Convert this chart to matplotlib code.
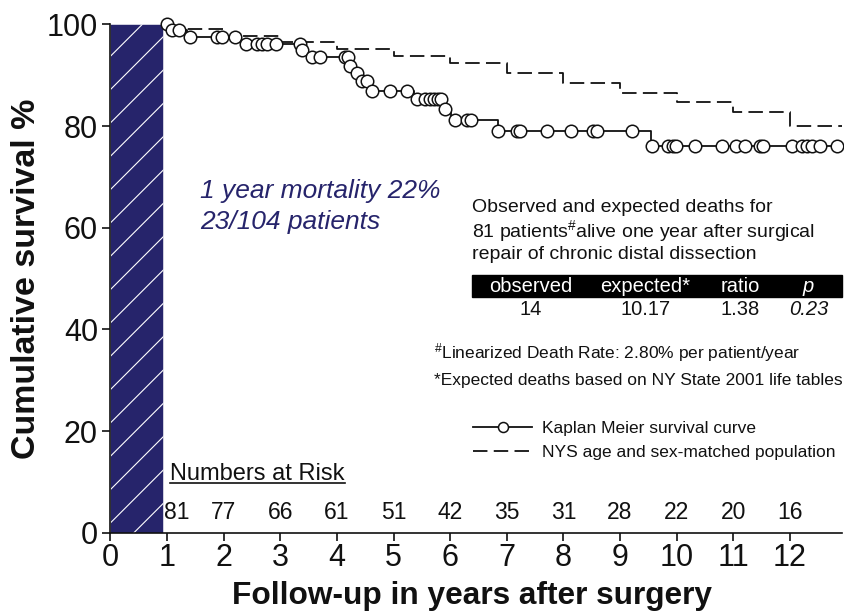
import numpy as np
import matplotlib.pyplot as plt
from matplotlib.patches import Rectangle
from matplotlib.legend_handler import HandlerTuple

plt.rcParams['font.family'] = ['Liberation Sans', 'DejaVu Sans']
plt.rcParams['mathtext.fontset'] = 'custom'
plt.rcParams['mathtext.rm'] = 'Liberation Sans'
plt.rcParams['mathtext.it'] = 'Liberation Sans:italic'
plt.rcParams['hatch.linewidth'] = 0.8

# Kaplan-Meier curve for patients alive at one year
km_start = 1.0
km_end = 12.88
km_drop_years = [1.05, 1.35, 2.30, 3.37, 3.48, 4.22, 4.32, 4.42, 4.57,
                 5.36, 5.89, 6.02, 6.84, 9.55]
km_levels = [100.0, 98.9, 97.6, 96.2, 94.9, 93.5, 91.9, 90.4, 88.9, 87.0,
             85.3, 83.3, 81.3, 79.0, 76.0]

# censored follow-up times (open circles)
censor_years = [1.00, 1.08, 1.21, 1.41, 1.89, 1.97, 2.20, 2.39, 2.59, 2.67,
                2.77, 2.92, 3.35, 3.38, 3.56, 3.70, 4.15, 4.20, 4.24, 4.36,
                4.45, 4.53, 4.62, 4.94, 5.24, 5.41, 5.56, 5.64, 5.72, 5.78,
                5.84, 5.91, 6.09, 6.30, 6.36, 6.85, 7.18, 7.24, 7.71, 8.13,
                8.53, 8.59, 9.21, 9.56, 9.85, 9.94, 9.99, 10.33, 10.80, 11.04,
                11.21, 11.48, 11.53, 12.04, 12.21, 12.30, 12.39, 12.54, 12.83]

# expected survival of the age and sex-matched NY State population
pop_years = [1, 2, 3, 4, 5, 6, 7, 8, 9, 10, 11, 12]
pop_levels = [99.2, 97.8, 96.5, 95.1, 93.7, 92.4, 90.4, 88.4, 86.6, 84.8,
              82.8, 80.1]

# numbers at risk at the start of each year
risk_years = [1, 2, 3, 4, 5, 6, 7, 8, 9, 10, 11, 12]
risk_counts = [81, 77, 66, 61, 51, 42, 35, 31, 28, 22, 20, 16]

# observed vs expected deaths
table_headers = ['observed', 'expected*', 'ratio', 'p']
table_values = [14, 10.17, 1.38, 0.23]

first_year_end = 0.93
x_max = 12.92
navy = '#26246b'
ink = '#111111'

fig = plt.figure(figsize=(8.44, 6.11), dpi=100)
ax = fig.add_axes([0.1308, 0.128, 0.8668, 0.832])

# first postoperative year, hatched
ax.bar(0, 100, width=first_year_end, align='edge', color=navy,
       edgecolor='white', hatch='/', linewidth=0.4, zorder=1)

# step curves
km_x = [km_start] + km_drop_years + [km_end]
km_y = km_levels + [km_levels[-1]]
km_line, = ax.step(km_x, km_y, where='post', color=ink, lw=1.3, zorder=3)

censor_idx = np.searchsorted(km_drop_years, censor_years, side='right')
censor_y = np.array(km_levels)[censor_idx]
km_marks, = ax.plot(censor_years, censor_y, 'o', ms=9, mfc='white',
                    mec=ink, mew=1.1, clip_on=False, zorder=4)

pop_x = pop_years + [x_max]
pop_y = pop_levels + [pop_levels[-1]]
pop_line, = ax.step(pop_x, pop_y, where='post', color=ink, lw=1.3,
                    linestyle=(0, (8, 3.5)), zorder=2)

# axes
ax.set_xlim(0, x_max)
ax.set_ylim(0, 100)
ax.set_xticks(range(0, 13))
ax.set_yticks(range(0, 101, 20))
ax.spines['top'].set_visible(False)
ax.spines['right'].set_visible(False)
for s in ['left', 'bottom']:
    ax.spines[s].set_linewidth(1.2)
    ax.spines[s].set_color(ink)
ax.tick_params(axis='both', direction='out', length=6, width=1.2,
               labelsize=22, colors=ink)
ax.tick_params(axis='x', pad=1)
ax.tick_params(axis='y', pad=3)

ax.set_xlabel('Follow-up in years after surgery', fontsize=22.8,
              fontweight='bold', color=ink)
ax.xaxis.set_label_coords(0.494, -0.094)
ax.set_ylabel('Cumulative survival %', fontsize=24.5, fontweight='bold',
              color=ink)
ax.yaxis.set_label_coords(-0.093, 0.5)

# one year mortality note
ax.text(1.58, 67.3, '1 year mortality 22%', style='italic', color=navy,
        fontsize=19, va='center')
ax.text(1.58, 61.2, '23/104 patients', style='italic', color=navy,
        fontsize=19, va='center')

# observed / expected block
ax.text(6.39, 63.9, 'Observed and expected deaths for', fontsize=14,
        va='center', color=ink)
ax.text(6.39, 59.3, '81 patients$^{\\#}$alive one year after surgical',
        fontsize=14, va='center', color=ink)
ax.text(6.39, 54.8, 'repair of chronic distal dissection', fontsize=14,
        va='center', color=ink)

ax.add_patch(Rectangle((6.39, 46.3), x_max - 6.39, 4.5, color='black',
                       clip_on=False, zorder=2))
col_x = [7.42, 9.45, 11.12, 12.33]
value_text = ['%d' % table_values[0], '%.2f' % table_values[1],
              '%.2f' % table_values[2], '%.2f' % table_values[3]]
for cx, head, val in zip(col_x, table_headers, value_text):
    st = 'italic' if head == 'p' else 'normal'
    ax.text(cx, 48.5, head, color='white', fontsize=14.5, ha='center',
            va='center', style=st, zorder=3)
    ax.text(cx, 44.0, val, color=ink, fontsize=14.5, ha='center',
            va='center', style=st)

ax.text(5.72, 35.5, '$^{\\#}$Linearized Death Rate: 2.80% per patient/year',
        fontsize=12.5, va='center', color=ink)
ax.text(5.72, 29.9, '*Expected deaths based on NY State 2001 life tables',
        fontsize=12.5, va='center', color=ink)

# legend: line with a centred circle, and the dashed population line
ax.legend(handles=[(km_line, km_marks), pop_line],
          labels=['Kaplan Meier survival curve',
                  'NYS age and sex-matched population'],
          handler_map={tuple: HandlerTuple(ndivide=1)},
          loc='center left', bbox_to_anchor=(6.41 / x_max, 0.182),
          frameon=False, fontsize=12.5, handlelength=3.4,
          handletextpad=0.55, labelspacing=0.5, borderpad=0,
          borderaxespad=0, labelcolor=ink, markerscale=0.8)

# numbers at risk
title = ax.text(1.06, 11.6, 'Numbers at Risk', fontsize=17, va='center',
                color=ink)
fig.canvas.draw()
bb = title.get_window_extent().transformed(ax.transData.inverted())
ax.plot([bb.x0, bb.x1], [bb.y0 + 0.4, bb.y0 + 0.4], color=ink, lw=1.2)
for i, (yr, n) in enumerate(zip(risk_years, risk_counts)):
    xpos = yr + 0.18 if i == 0 else yr
    ax.text(xpos, 4.0, str(n), fontsize=16.5, ha='center', va='center',
            color=ink)

fig.savefig('out.png', dpi=100)
